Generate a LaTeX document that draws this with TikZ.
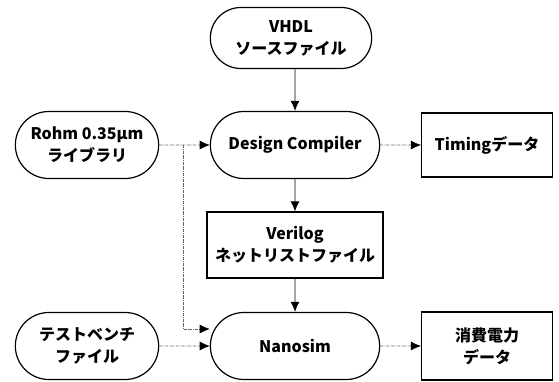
\documentclass[tikz,border=0pt]{standalone}
\usepackage{fontspec}
\setmainfont{Noto Sans CJK JP}[BoldFont={Noto Sans CJK JP Black}]
\usetikzlibrary{arrows.meta}
\usetikzlibrary{shapes.misc}

\begin{document}
\begin{tikzpicture} [
        x=1pt, y=1pt,
        pill/.style={draw, rounded rectangle, line width=1.2pt, minimum width=176pt, minimum height=67pt},
        file/.style={draw, rectangle, line width=1.2pt, minimum width=131pt, minimum height=64pt},
        flow/.style={-{Latex[length=10pt,width=9pt]}, line width=0.9pt},
        side/.style={-{Latex[length=10pt,width=9pt,black]}, line width=0.6pt, densely dash dot, black!60},
        font=\bfseries\fontsize{16}{22}\selectfont,
        align=center,
        node distance=101pt ]
    \useasboundingbox (0,0) rectangle (559,-382);
    \node[pill] (dc) at (295,-145) {Design Compiler};
    \node[pill, minimum width=168pt, minimum height=61pt, above of=dc, node distance=107pt, xshift=-4pt] (vhdl) {VHDL\\ソースファイル};
    \node[pill, minimum width=150pt, left of=dc, node distance=208pt] (rohm) {Rohm 0.35μm\\ライブラリ};
    \node[file, right of=dc, node distance=192pt] (timing) {Timingデータ};
    \node[file, minimum width=176pt, minimum height=66pt, below of=dc, node distance=100pt] (verilog) {Verilog\\ネットリストファイル};
    \node[pill, below of=verilog] (nano) {Nanosim};
    \node[pill, minimum width=150pt, left of=nano, node distance=208pt] (test) {テストベンチ\\ファイル};
    \node[file, minimum height=68pt, right of=nano, node distance=192pt] (power) {消費電力\\データ};
    \coordinate (tap) at (183,-145);
    \draw[flow] (vhdl.south -| dc.north) -- (dc);
    \draw[flow] (dc) -- (verilog);
    \draw[flow] (verilog) -- (nano);
    \draw[side] (rohm) -- (dc);
    \draw[side] (tap) |- ([yshift=17pt]nano.west);
    \draw[side] (test) -- (nano);
    \draw[side] (dc) -- (timing);
    \draw[side] (nano) -- (power);
\end{tikzpicture}
\end{document}
